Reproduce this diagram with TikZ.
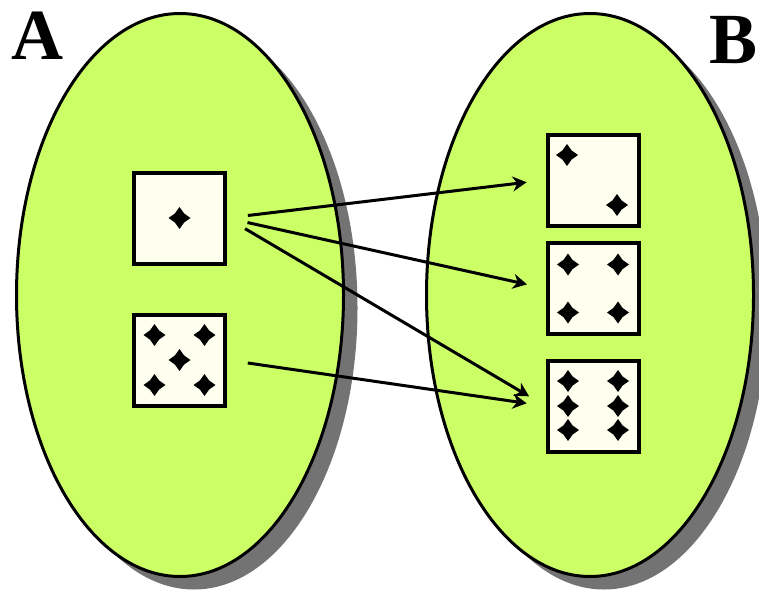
\documentclass[tikz,border=0pt]{standalone}
\usepackage{fontspec}
\newfontfamily\setfont{Liberation Serif}
\usetikzlibrary{shapes.geometric,shadows,arrows.meta}
\definecolor{setgreen}{RGB}{204,255,102}
\definecolor{diefill}{RGB}{255,255,240}
\begin{document}
\begin{tikzpicture}[x=1pt, y=-1pt,
  set/.style = {shape=ellipse, draw, line width=3pt, fill=setgreen,
    minimum width=327pt, minimum height=563pt,
    drop shadow={shadow xshift=14pt, shadow yshift=-13pt,
      fill=black!55, opacity=1}},
  die/.style = {shape=rectangle, draw, line width=4pt,
    fill=diefill, minimum size=91pt},
  pip/.style = {shape=star, star points=4, star point ratio=1.7,
    fill, inner sep=0pt, minimum size=22pt},
  map/.style = {-{Stealth[length=14pt,width=15pt]}, line width=3pt,
    shorten <=21pt, shorten >=19pt},
  setlabel/.style = {font=\setfont\bfseries\fontsize{72}{72}\selectfont,
    inner sep=0pt}
  ]
  \useasboundingbox (0,0) rectangle (759,599);
  % the two sets
  \node[set] (A) at (180,295) {};
  \node[set] (B) at (590,295) {};
  \node[setlabel] (labA) at (37,36) {A};
  \node[setlabel] (labB) at (733,40) {B};
  % dice
  \node[die] (d1) at (179.5,218) {};
  \node[die] (d5) at (179.5,360) {};
  \node[die] (d2) at (593,180) {};
  \node[die] (d4) at (593,288.5) {};
  \node[die] (d6) at (593,406) {};
  % pips
  \node[pip] (d1-1) at (d1) {};
  \foreach \dx/\dy [count=\i] in {-25/-25, 25/-25, 0/0, -25/25, 25/25}
    \node[pip] (d5-\i) at ([shift={(\dx,\dy)}]d5.center) {};
  \foreach \dx/\dy [count=\i] in {-26/-25, 24/25}
    \node[pip] (d2-\i) at ([shift={(\dx,\dy)}]d2.center) {};
  \foreach \dx/\dy [count=\i] in {-25/-24, 25/-24, -25/24, 25/24}
    \node[pip] (d4-\i) at ([shift={(\dx,\dy)}]d4.center) {};
  \foreach \dx/\dy [count=\i] in {-25/-25, 25/-25, -25/0, 25/0, -25/24, 25/24}
    \node[pip] (d6-\i) at ([shift={(\dx,\dy)}]d6.center) {};
  % the mapping
  \draw[map] (d1.east) -- (d2.west);
  \draw[map] (d1.east) -- (d4.west);
  \draw[map] (d1.east) -- (d6.west);
  \draw[map] (d5.east) -- (d6.west);
\end{tikzpicture}
\end{document}
